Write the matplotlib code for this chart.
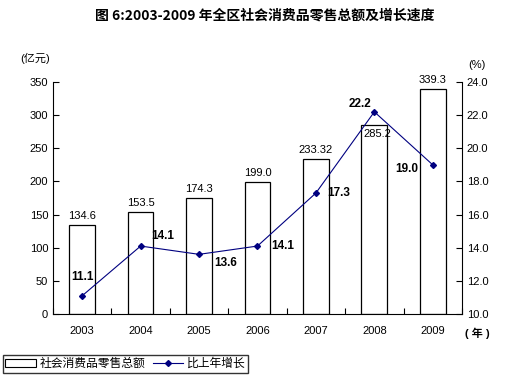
import numpy as np
import matplotlib.pyplot as plt
from matplotlib.patches import Rectangle
from matplotlib.lines import Line2D

plt.rcParams['font.family'] = ['Liberation Sans', 'Noto Sans CJK SC', 'DejaVu Sans']

years = ['2003', '2004', '2005', '2006', '2007', '2008', '2009']
sales = [134.6, 153.5, 174.3, 199.0, 233.32, 285.2, 339.3]
sales_labels = ['134.6', '153.5', '174.3', '199.0', '233.32', '285.2', '339.3']
growth = [11.1, 14.1, 13.6, 14.1, 17.3, 22.2, 19.0]
growth_labels = ['11.1', '14.1', '13.6', '14.1', '17.3', '22.2', '19.0']
# label offsets (pixels) for the growth labels
growth_off = [(0, 19), (22, 10), (27, -9), (25, 0), (23, 0), (-14, 8), (-26, -4)]

fig = plt.figure(figsize=(5.06, 3.80), dpi=100)
ax = fig.add_axes([0.1047, 0.1737, 0.8083, 0.6105])
x = np.arange(len(years))

ax.bar(x, sales, width=0.44, color='white', edgecolor='black', linewidth=0.9, zorder=2)
ax.set_xlim(-0.5, 6.5)
ax.set_ylim(0, 350)
ax.set_yticks(range(0, 351, 50))
ax.set_xticks(np.arange(-0.5, 6.6, 1))
ax.set_xticklabels([])
ax.set_xticks(x, minor=True)
ax.set_xticklabels(years, minor=True)
ax.tick_params(axis='x', which='minor', length=0, labelsize=8, pad=9)
ax.tick_params(axis='x', which='major', length=4, direction='in')
ax.tick_params(axis='y', length=4, direction='in', labelsize=8)
for s in ['top', 'right']:
    ax.spines[s].set_visible(False)
for i, v in enumerate(sales):
    if i == 5:
        # this one sits inside the bar top, bar edge drawn over it
        ax.annotate(sales_labels[i], (x[i], v), xytext=(3, -4), textcoords='offset pixels',
                    ha='center', va='top', fontsize=8, zorder=3)
    else:
        ax.annotate(sales_labels[i], (x[i], v), xytext=(0, 4), textcoords='offset pixels',
                    ha='center', va='bottom', fontsize=8)

ax2 = ax.twinx()
ax2.plot(x, growth, color='#000080', marker='D', markersize=3, linewidth=0.8, zorder=1)
ax2.set_ylim(10, 24)
ax2.set_yticks(np.arange(10, 24.1, 2))
ax2.set_yticklabels([f'{v:.1f}' for v in np.arange(10, 24.1, 2)])
ax2.tick_params(axis='y', length=4, direction='in', labelsize=8)
for s in ['top', 'left', 'bottom']:
    ax2.spines[s].set_visible(False)
for i, v in enumerate(growth):
    ax2.annotate(growth_labels[i], (x[i], v), xytext=growth_off[i], textcoords='offset pixels',
                 ha='center', va='center', fontsize=8.5, fontweight='bold')

fig.text(0.524, 0.958, '图 6:2003-2009 年全区社会消费品零售总额及增长速度',
         ha='center', va='center', fontsize=10, fontweight='bold',
         family=['Noto Sans CJK SC', 'DejaVu Sans'])
fig.text(0.04, 0.847, '(亿元)', ha='left', va='center', fontsize=8)
fig.text(0.925, 0.829, '(%)', ha='left', va='center', fontsize=8)
fig.text(0.918, 0.124, '( 年 )', ha='left', va='center', fontsize=8, fontweight='bold')

h1 = Rectangle((0, 0), 1, 1, facecolor='white', edgecolor='black', linewidth=0.8)
h2 = Line2D([], [], color='#000080', marker='D', markersize=3, linewidth=0.8)
fig.legend([h1, h2], ['社会消费品零售总额', '比上年增长'], loc='lower left',
           bbox_to_anchor=(0.005, 0.018), ncol=2, frameon=True, fancybox=False,
           edgecolor='black', fontsize=8.5, handlelength=2.6, columnspacing=0.6,
           handletextpad=0.3, borderpad=0.25, borderaxespad=0)

fig.savefig('out.png', dpi=100)
